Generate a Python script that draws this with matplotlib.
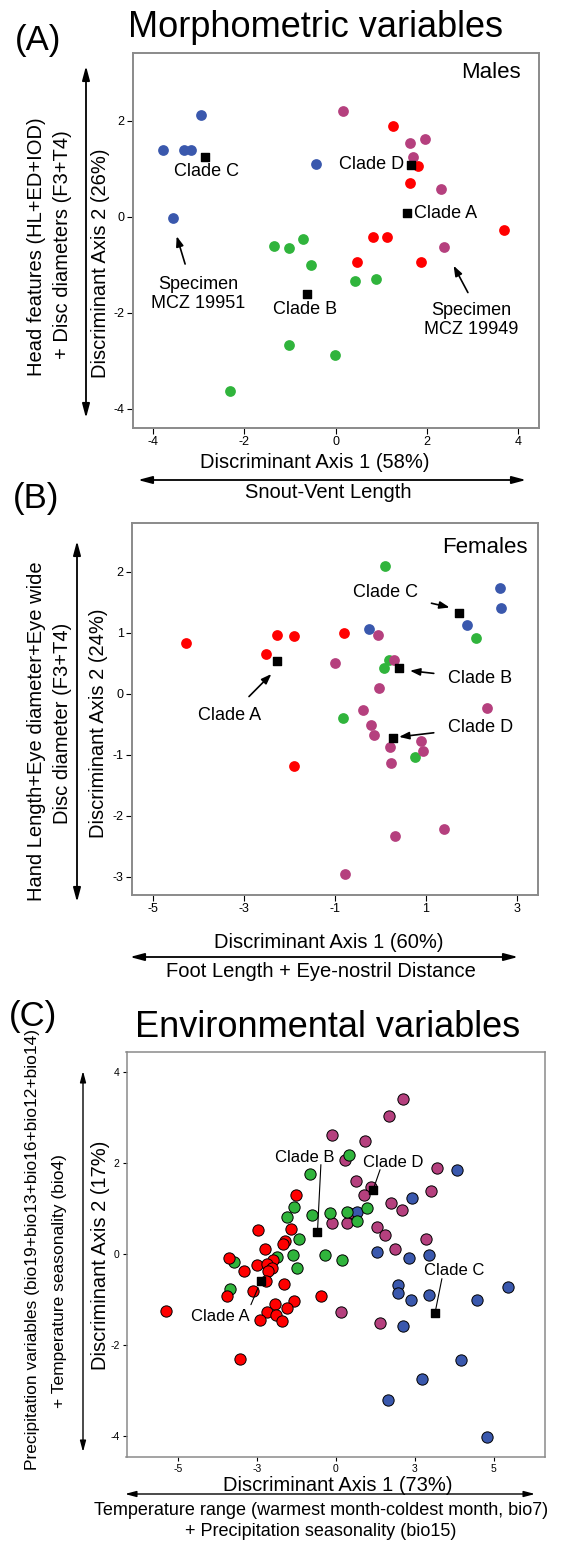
import matplotlib
matplotlib.use("Agg")
import matplotlib.pyplot as plt
from matplotlib.patches import FancyArrowPatch

plt.rcParams['font.family'] = ['Liberation Sans', 'DejaVu Sans']
plt.rcParams['axes.unicode_minus'] = False

# ---- data ----
# (A) males, morphometric
males_A_x = [1.25, 1.81, 1.64, 3.70, 0.82, 1.12, 0.47, 1.87]
males_A_y = [1.89, 1.06, 0.70, -0.28, -0.42, -0.42, -0.94, -0.94]
males_B_x = [-1.34, -1.03, -0.72, -0.53, 0.42, 0.89, -1.03, -0.01, -2.31]
males_B_y = [-0.61, -0.66, -0.46, -1.01, -1.34, -1.29, -2.67, -2.89, -3.62]
males_C_x = [-3.79, -3.32, -3.17, -2.94, -0.43, -3.57]
males_C_y = [1.39, 1.39, 1.39, 2.12, 1.09, -0.03]
males_D_x = [0.17, 1.64, 1.97, 1.69, 2.32, 2.38]
males_D_y = [2.21, 1.53, 1.62, 1.24, 0.58, -0.63]
males_cent_x = [1.57, -0.63, -2.86, 1.65]
males_cent_y = [0.08, -1.60, 1.24, 1.08]

# (B) females, morphometric
fem_A_x = [-4.26, -2.51, -2.26, -1.89, -0.79, -1.89]
fem_A_y = [0.83, 0.65, 0.96, 0.95, 0.99, -1.18]
fem_B_x = [0.10, 2.10, 0.19, 0.07, -0.82, 0.76]
fem_B_y = [2.10, 0.91, 0.56, 0.42, -0.40, -1.03]
fem_C_x = [-0.25, 1.90, 2.63, 2.65]
fem_C_y = [1.06, 1.12, 1.74, 1.41]
fem_D_x = [-0.06, 0.31, -0.99, -0.03, -0.38, -0.21, -0.13, 0.22, 0.90, 0.94,
           2.34, 0.24, 0.33, 1.40, -0.77]
fem_D_y = [0.96, 0.55, 0.50, 0.09, -0.27, -0.52, -0.67, -0.87, -0.77, -0.94,
           -0.23, -1.14, -2.34, -2.21, -2.96]
fem_cent_x = [-2.27, 0.41, 1.72, 0.28]
fem_cent_y = [0.53, 0.42, 1.33, -0.72]

# (C) environmental
env_A_x = [-1.53, -2.97, -1.70, -1.94, -2.02, -2.68, -4.05, -2.39, -2.99, -2.63,
           -2.43, -3.50, -2.59, -2.67, -1.99, -3.15, -4.14, -0.56, -1.58, -2.33,
           -1.87, -6.45, -2.63, -2.26, -2.89, -2.05, -3.63]
env_A_y = [1.29, 0.52, 0.54, 0.28, 0.21, 0.12, -0.08, -0.12, -0.24, -0.21,
           -0.30, -0.38, -0.38, -0.59, -0.65, -0.82, -0.92, -0.93, -1.02, -1.10,
           -1.19, -1.25, -1.28, -1.33, -1.44, -1.46, -2.31]
env_B_x = [0.49, -0.99, -1.60, -1.87, -0.91, -0.22, 0.44, 1.19, 0.82, -1.42,
           -1.64, -0.43, -2.25, -3.86, 0.25, -1.49, -4.01]
env_B_y = [2.18, 1.76, 1.04, 0.82, 0.86, 0.90, 0.93, 1.01, 0.73, 0.32,
           -0.02, -0.02, -0.06, -0.17, -0.12, -0.30, -0.76]
env_C_x = [4.62, 2.88, 0.79, 1.57, 3.55, 2.78, 2.35, 2.37, 3.55, 2.84,
           5.36, 6.56, 2.54, 4.76, 3.29, 2.00, 5.74]
env_C_y = [1.84, 1.22, 0.92, 0.05, -0.02, -0.08, -0.68, -0.86, -0.89, -1.00,
           -1.00, -0.72, -1.58, -2.33, -2.75, -3.21, -4.02]
env_D_x = [2.57, 2.01, -0.16, 1.09, 0.33, 3.83, 0.75, 1.34, 3.62, 1.06,
           2.10, 2.51, 0.48, -0.14, 0.41, 1.58, 1.88, 3.41, 2.25, 0.20, 1.67]
env_D_y = [3.39, 3.02, 2.60, 2.48, 2.07, 1.89, 1.60, 1.47, 1.39, 1.29,
           1.12, 0.96, 0.89, 0.67, 0.67, 0.59, 0.41, 0.33, 0.11, -1.28, -1.52]
env_cent_x = [-2.84, -0.70, 3.77, 1.41]
env_cent_y = [-0.60, 0.49, -1.29, 1.40]
env_xticks = [-6, -3, 0, 3, 6]
env_xticklabels = ['-5', '-3', '0', '3', '5']

RED = '#ff0000'
GREEN = '#30b43c'
BLUE = '#3a58ad'
PURPLE = '#b5407e'

W, H = 562, 1542
fig = plt.figure(figsize=(W / 100, H / 100), dpi=100)


def fx(x):
    return x / W


def fy(y):
    return 1 - y / H


def ftext(x, y, s, **kw):
    fig.text(fx(x), fy(y), s, **kw)


def farrow(x0, y0, x1, y1, lw=1.3, ms=14):
    fig.add_artist(FancyArrowPatch((fx(x0), fy(y0)), (fx(x1), fy(y1)),
                                   transform=fig.transFigure,
                                   arrowstyle='<|-|>,head_length=0.6,head_width=0.16',
                                   mutation_scale=ms, lw=lw, color='black',
                                   shrinkA=0, shrinkB=0))


def make_axes(left, top, right, bottom):
    ax = fig.add_axes([fx(left), fy(bottom), (right - left) / W, (bottom - top) / H])
    for s in ax.spines.values():
        s.set_color('#8a8a8a')
        s.set_linewidth(1.4)
    ax.tick_params(direction='out', length=4, width=0.8, colors='black',
                   labelsize=9, pad=2)
    return ax


def clade_arrow(ax, text, xy, xytext, fs=13):
    ax.annotate(text, xy=xy, xytext=xytext, fontsize=fs, ha='center', va='center',
                arrowprops=dict(arrowstyle='-|>,head_length=0.6,head_width=0.22',
                                color='black', lw=1.2, shrinkA=8, shrinkB=1,
                                mutation_scale=10))


# ================= (A) =================
ax1 = make_axes(133, 53, 539, 428)
dot = dict(s=60, linewidths=0, zorder=3)
ax1.scatter(males_D_x, males_D_y, color=PURPLE, **dot)
ax1.scatter(males_A_x, males_A_y, color=RED, **dot)
ax1.scatter(males_B_x, males_B_y, color=GREEN, **dot)
ax1.scatter(males_C_x, males_C_y, color=BLUE, **dot)
ax1.scatter(males_cent_x, males_cent_y, marker='s', color='black', s=34, zorder=4)
ax1.set_xlim(-4.44, 4.46)
ax1.set_ylim(-4.4, 3.41)
ax1.set_xticks([-4, -2, 0, 2, 4])
ax1.set_yticks([-4, -2, 0, 2])
ax1.text(0.956, 0.947, 'Males', transform=ax1.transAxes, ha='right', va='center', fontsize=16)
ax1.text(-2.82, 0.94, 'Clade C', ha='center', va='center', fontsize=13)
ax1.text(0.78, 1.08, 'Clade D', ha='center', va='center', fontsize=13)
ax1.text(1.73, 0.07, 'Clade A', ha='left', va='center', fontsize=13)
ax1.text(-0.66, -1.93, 'Clade B', ha='center', va='center', fontsize=13)
ax1.text(-3.02, -1.60, 'Specimen\nMCZ 19951', ha='center', va='center', fontsize=13,
         linespacing=1.15)
ax1.text(2.97, -2.15, 'Specimen\nMCZ 19949', ha='center', va='center', fontsize=13,
         linespacing=1.15)
ax1.annotate('', xy=(-3.50, -0.35), xytext=(-3.28, -1.04),
             arrowprops=dict(arrowstyle='-|>,head_length=0.6,head_width=0.22',
                             color='black', lw=1.2, mutation_scale=10))
ax1.annotate('', xy=(2.56, -0.97), xytext=(2.93, -1.63),
             arrowprops=dict(arrowstyle='-|>,head_length=0.6,head_width=0.22',
                             color='black', lw=1.2, mutation_scale=10))

ftext(316, 37, 'Morphometric variables', ha='center', va='baseline', fontsize=26)
ftext(38, 50, '(A)', ha='center', va='baseline', fontsize=25)
ftext(37, 247, 'Head features (HL+ED+IOD)', rotation=90, ha='center', va='center', fontsize=14.5)
ftext(63, 245, '+ Disc diameters (F3+T4)', rotation=90, ha='center', va='center', fontsize=14.5)
ftext(100, 263, 'Discriminant Axis 2 (26%)', rotation=90, ha='center', va='center', fontsize=14.5)
farrow(86, 418, 86, 66)
ftext(315, 468, 'Discriminant Axis 1 (58%)', ha='center', va='baseline', fontsize=14.5)
farrow(138, 480, 526, 480)
ftext(328, 498.5, 'Snout-Vent Length', ha='center', va='baseline', fontsize=14.5)

# ================= (B) =================
ax2 = make_axes(132, 523, 538, 895)
ax2.scatter(fem_A_x, fem_A_y, color=RED, **dot)
ax2.scatter(fem_B_x, fem_B_y, color=GREEN, **dot)
ax2.scatter(fem_C_x, fem_C_y, color=BLUE, **dot)
ax2.scatter(fem_D_x, fem_D_y, color=PURPLE, **dot)
ax2.scatter(fem_cent_x, fem_cent_y, marker='s', color='black', s=34, zorder=4)
ax2.set_xlim(-5.45, 3.46)
ax2.set_ylim(-3.30, 2.80)
ax2.set_xticks([-5, -3, -1, 1, 3])
ax2.set_yticks([-3, -2, -1, 0, 1, 2])
ax2.text(0.974, 0.933, 'Females', transform=ax2.transAxes, ha='right', va='center', fontsize=16)
for lab, xy, xyt in [('Clade C', (1.55, 1.41), (0.11, 1.66)),
                     ('Clade B', (0.62, 0.38), (2.18, 0.25)),
                     ('Clade D', (0.38, -0.71), (2.19, -0.55)),
                     ('Clade A', (-2.37, 0.34), (-3.30, -0.36))]:
    clade_arrow(ax2, lab, xy, xyt)

ftext(36, 508, '(B)', ha='center', va='baseline', fontsize=25)
ftext(37, 731, 'Hand Length+Eye diameter+Eye wide', rotation=90, ha='center', va='center', fontsize=14.5)
ftext(62, 723, 'Disc diameter (F3+T4)', rotation=90, ha='center', va='center', fontsize=14.5)
ftext(98, 723, 'Discriminant Axis 2 (24%)', rotation=90, ha='center', va='center', fontsize=14.5)
farrow(77, 902, 77, 541)
ftext(329, 948, 'Discriminant Axis 1 (60%)', ha='center', va='baseline', fontsize=14.5)
farrow(130, 957, 518, 957)
ftext(321, 977, 'Foot Length + Eye-nostril Distance', ha='center', va='baseline', fontsize=14.5)

# ================= (C) =================
ax3 = make_axes(126.5, 1052, 545, 1457)
for s in ax3.spines.values():
    s.set_linewidth(1.1)
ax3.tick_params(labelsize=7.5, length=3)
edot = dict(s=66, edgecolors='black', linewidths=0.7, zorder=3)
ax3.scatter(env_D_x, env_D_y, color=PURPLE, **edot)
ax3.scatter(env_C_x, env_C_y, color=BLUE, **edot)
ax3.scatter(env_B_x, env_B_y, color=GREEN, **edot)
ax3.scatter(env_A_x, env_A_y, color=RED, **edot)
ax3.scatter(env_cent_x, env_cent_y, marker='s', color='black', s=30, zorder=4)
ax3.set_xlim(-7.96, 7.95)
ax3.set_ylim(-4.45, 4.43)
ax3.set_xticks(env_xticks)
ax3.set_xticklabels(env_xticklabels)
ax3.set_yticks([-4, -2, 0, 2, 4])
line = dict(arrowstyle='-', color='black', lw=0.8, shrinkA=0, shrinkB=0)
ax3.text(-1.19, 2.11, 'Clade B', ha='center', va='center', fontsize=12)
ax3.annotate('', xy=(-0.70, 0.49), xytext=(-0.57, 1.96), arrowprops=line)
ax3.text(2.16, 2.00, 'Clade D', ha='center', va='center', fontsize=12)
ax3.annotate('', xy=(1.41, 1.40), xytext=(1.68, 1.85), arrowprops=line)
ax3.text(-4.39, -1.36, 'Clade A', ha='center', va='center', fontsize=12)
ax3.annotate('', xy=(-2.96, -0.74), xytext=(-3.23, -1.11), arrowprops=line)
ax3.text(4.48, -0.36, 'Clade C', ha='center', va='center', fontsize=12)
ax3.annotate('', xy=(3.79, -1.23), xytext=(4.03, -0.54), arrowprops=line)

ftext(33, 1026, '(C)', ha='center', va='baseline', fontsize=25)
ftext(328, 1037, 'Environmental variables', ha='center', va='baseline', fontsize=26)
ftext(33, 1250, 'Precipitation variables (bio19+bio13+bio16+bio12+bio14)', rotation=90,
      ha='center', va='center', fontsize=12.5)
ftext(60, 1281, '+ Temperature seasonality (bio4)', rotation=90, ha='center', va='center',
      fontsize=12.5)
ftext(100, 1255, 'Discriminant Axis 2 (17%)', rotation=90, ha='center', va='center', fontsize=14.5)
farrow(83, 1452, 83, 1071, lw=1.0, ms=11)
ftext(338, 1491, 'Discriminant Axis 1 (73%)', ha='center', va='baseline', fontsize=14.5)
farrow(125, 1494, 535, 1494, lw=1.0, ms=11)
ftext(321, 1515, 'Temperature range (warmest month-coldest month, bio7)', ha='center',
      va='baseline', fontsize=13)
ftext(321, 1536, '+ Precipitation seasonality (bio15)', ha='center', va='baseline', fontsize=13)

fig.savefig('out.png', dpi=100)
